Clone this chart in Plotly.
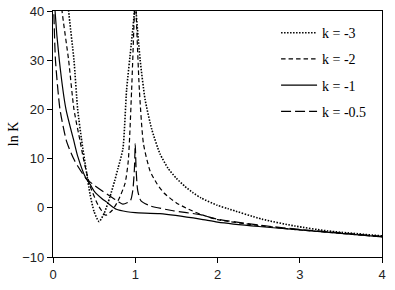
import plotly.graph_objects as go

# k = -3 (dotted)
x_k3 = [0.17, 0.19, 0.255, 0.30, 0.35, 0.40, 0.45, 0.50, 0.56, 0.62, 0.69, 0.75, 0.79, 0.85, 0.895, 0.95, 0.99, 1.0,
        1.01, 1.06, 1.12, 1.2, 1.3, 1.4, 1.5, 1.6, 1.7, 1.8, 2.0, 2.13, 2.54, 2.94, 3.34, 4.0]
y_k3 = [45, 40, 30, 20, 13.5, 8, 2.8, -0.8, -2.8, -1.2, 2.1, 5.5, 8, 12, 24, 33, 40, 45,
        40, 30, 22, 16, 11, 8, 6, 4.4, 3.1, 2.0, 0.5, -0.2, -2.3, -3.7, -4.7, -5.7]

# k = -2 (dashed)
x_k2 = [0.09, 0.11, 0.19, 0.255, 0.33, 0.37, 0.45, 0.55, 0.64, 0.72, 0.79, 0.875, 0.915, 0.956, 0.99, 1.0,
        1.01, 1.05, 1.1, 1.18, 1.26, 1.35, 1.5, 1.65, 1.79, 2.0, 2.5, 3.0, 3.5, 4.0]
y_k2 = [45, 40, 30, 20, 13.5, 10, 4.5, 0.5, -1.5, -0.5, 1.4, 4.9, 9.5, 24, 40, 45,
        40, 24, 13, 7.5, 5.0, 3.0, 1.0, -0.3, -1.3, -2.4, -3.6, -4.5, -5.2, -5.9]

# k = -1 (solid)
x_k1 = [0.015, 0.025, 0.077, 0.158, 0.255, 0.30, 0.40, 0.45, 0.50, 0.60, 0.65, 0.70, 0.77, 0.90, 1.0,
        1.3, 1.79, 2.0, 2.5, 3.0, 3.5, 4.0]
y_k1 = [45, 40, 30, 20, 13.5, 10.5, 6.0, 4.8, 3.4, 1.8, 1.2, 0.5, -0.3, -0.8, -1.0,
        -1.2, -2.3, -2.9, -3.8, -4.5, -5.2, -5.9]

# k = -0.5 (long dash)
x_k05 = [0.005, 0.01, 0.03, 0.085, 0.165, 0.25, 0.30, 0.40, 0.50, 0.60, 0.70, 0.80, 0.85, 0.94, 0.97, 0.99, 1.0,
         1.01, 1.03, 1.07, 1.18, 1.46, 1.79, 2.0, 2.5, 3.0, 3.5, 4.0]
y_k05 = [45, 40, 30, 20, 13.5, 10, 8.5, 6.0, 4.6, 3.4, 2.3, 1.2, 0.75, 1.4, 3.5, 8, 13,
         8, 3.5, 1.4, 0.4, -0.6, -1.4, -2.3, -3.5, -4.4, -5.1, -5.8]

series = [
    ("k = -3", x_k3, y_k3, "1.5px,1.5px", 1.6),
    ("k = -2", x_k2, y_k2, "4.5px,3px", 1.2),
    ("k = -1", x_k1, y_k1, "solid", 1.2),
    ("k = -0.5", x_k05, y_k05, "10px,4px", 1.2),
]

x_ticks = [0, 1, 2, 3, 4]
y_ticks = [-10, 0, 10, 20, 30, 40]

fig = go.Figure()
for i, (name, xs, ys, dash, w) in enumerate(series):
    fig.add_trace(go.Scatter(
        x=xs, y=ys, mode="lines", name=name, legendgroup=f"g{i}",
        line=dict(color="black", width=w, dash=dash, shape="spline", smoothing=0.6),
    ))

tick_font = dict(family="Liberation Sans, Arial, sans-serif", size=13, color="#222")

fig.update_layout(
    width=395, height=290,
    margin=dict(l=53, r=13, t=11, b=33),
    plot_bgcolor="white", paper_bgcolor="white",
    showlegend=True,
    legend=dict(
        x=0.678, y=0.975, xanchor="left", yanchor="top",
        font=dict(family="Liberation Serif, DejaVu Serif, serif", size=14, color="black"),
        bgcolor="rgba(0,0,0,0)", tracegroupgap=5, itemwidth=36,
    ),
    xaxis=dict(
        range=[0, 4], tickvals=x_ticks, showgrid=False, zeroline=False, automargin=False,
        showline=True, linecolor="black", linewidth=1.2, mirror=True,
        ticks="outside", ticklen=5, tickcolor="black",
        tickfont=tick_font,
    ),
    yaxis=dict(
        range=[-10, 40], tickvals=y_ticks, showgrid=False, zeroline=False, automargin=False,
        showline=True, linecolor="black", linewidth=1.2, mirror=True,
        ticks="outside", ticklen=5, tickcolor="black",
        tickfont=tick_font,
        title=dict(text="ln K", standoff=0,
                   font=dict(family="Liberation Serif, DejaVu Serif, serif", size=14, color="black")),
    ),
)

fig.write_html("out.html", config={"displayModeBar": False},
               post_script="document.body.style.margin='0';")
